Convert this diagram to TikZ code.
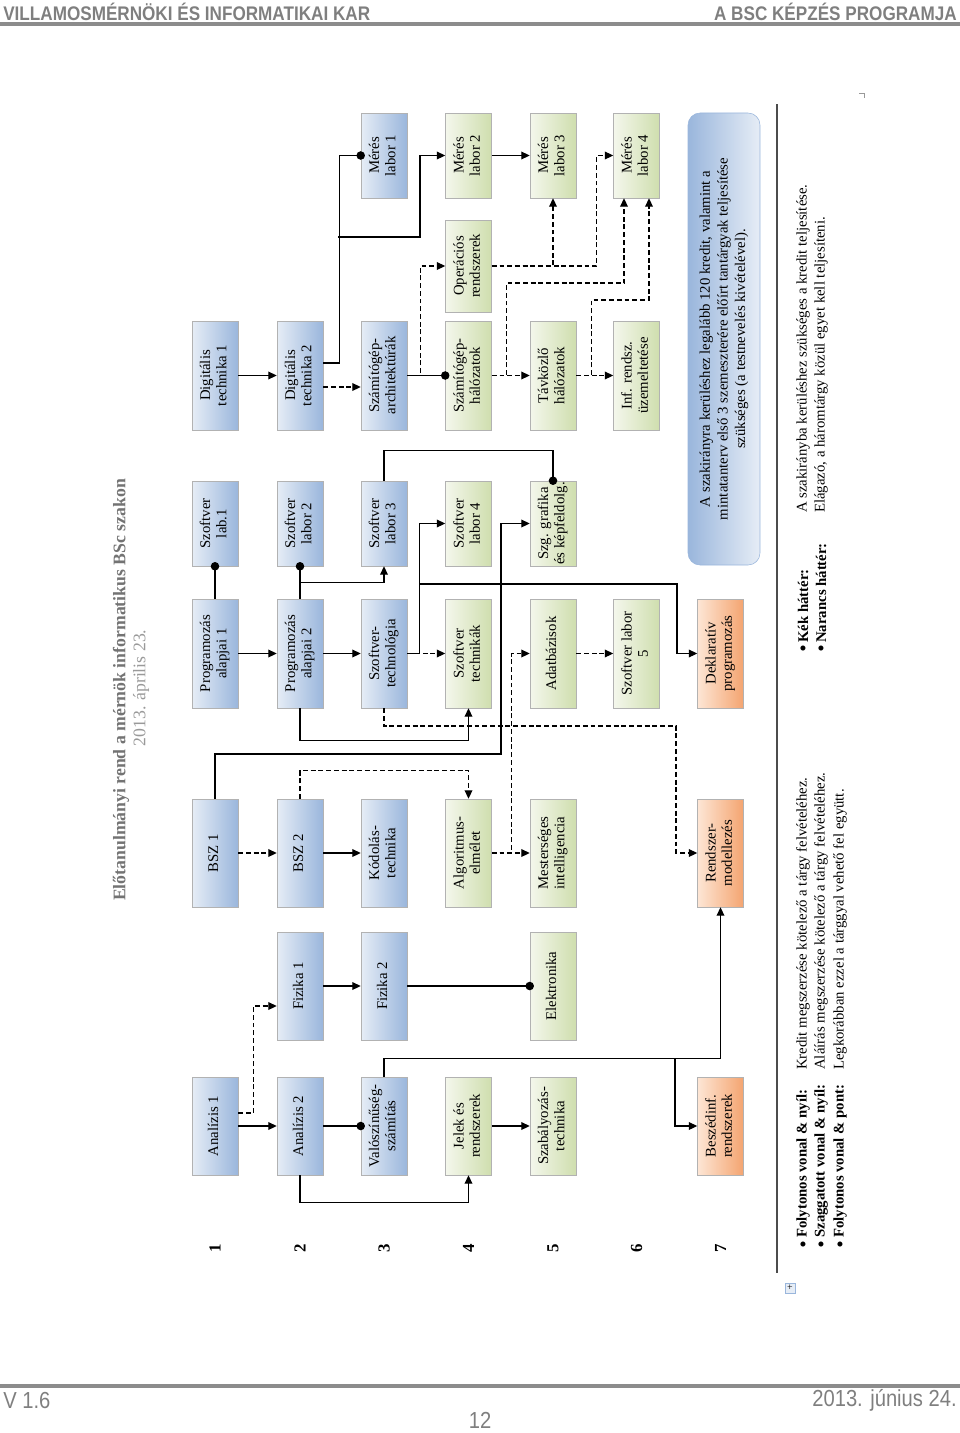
\documentclass[tikz,border=0pt]{standalone}
\usepackage{fontspec}
\setmainfont{Liberation Serif}
\newfontfamily\kopffont[FakeStretch=0.87]{Liberation Sans}
\usepackage{graphicx}
\usetikzlibrary{arrows.meta}
\definecolor{kekV}{HTML}{E6EDF6}
\definecolor{kekS}{HTML}{9AB6DC}
\definecolor{zoldV}{HTML}{F4F7EC}
\definecolor{zoldS}{HTML}{CFDEAE}
\definecolor{narV}{HTML}{FDE6D5}
\definecolor{narS}{HTML}{F4A470}
\definecolor{szurke}{HTML}{7F7F7F}
\newcommand{\fg}[1]{\rotatebox{90}{\begin{tabular}{@{}c@{}}#1\end{tabular}}}
\tikzset{
  tbox/.style   = {draw=black!30, inner sep=0pt, minimum width=11.5mm,
                   font=\fontsize{10.5}{11.5}\selectfont},
  kek/.style    = {tbox, left color=kekV, right color=kekS},
  zold/.style   = {tbox, left color=zoldV, right color=zoldS},
  nar/.style    = {tbox, left color=narV, right color=narS},
  colA/.style   = {minimum height=24.5mm},
  colB/.style   = {minimum height=27mm},
  colC/.style   = {minimum height=27mm},
  colD/.style   = {minimum height=27.25mm},
  colE/.style   = {minimum height=21.25mm},
  colF/.style   = {minimum height=27.25mm},
  colG/.style   = {minimum height=23mm},
  colH/.style   = {minimum height=21.25mm},
  info/.style   = {draw=kekS, rounded corners=3mm, minimum width=18mm,
                   minimum height=113mm, left color=kekS, right color=kekV,
                   inner sep=0pt, font=\fontsize{10.5}{12.5}\selectfont},
  ar/.style     = {-{Triangle[length=6pt,width=5.5pt]}, line width=0.9pt},
  dar/.style    = {ar, dash pattern=on 3.5pt off 2pt},
  pt/.style     = {-{Circle[length=6pt]}, line width=0.9pt, shorten >=-3pt},
  kopf/.style   = {font=\kopffont\bfseries\fontsize{14}{16}\selectfont,
                   text=szurke, inner sep=0pt},
  fuss/.style   = {font=\kopffont\fontsize{16.5}{18}\selectfont,
                   text=szurke, inner sep=0pt},
  rule/.style   = {line width=2.2pt, draw=black!45},
  cim/.style    = {font=\bfseries\fontsize{12.6}{14}\selectfont,
                   text=black!55, inner sep=0pt},
  datum/.style  = {font=\fontsize{12.6}{14}\selectfont, text=black!40,
                   inner sep=0pt},
  sorsz/.style  = {font=\bfseries\fontsize{12}{14}\selectfont, inner sep=0pt},
  jm/.style     = {font=\fontsize{10.5}{12}\selectfont, inner sep=0pt,
                   anchor=south},
  golyo/.style  = {font=\fontsize{15}{15}\selectfont, inner sep=0pt},
}

\begin{document}
\begin{tikzpicture}[x=0.25mm, y=-0.25mm]
\useasboundingbox (0,0) rectangle (960,1433);

% ===== page head and foot =====
\node[kopf, anchor=west] (kar) at (3,12) {VILLAMOSMÉRNÖKI ÉS INFORMATIKAI KAR};
\node[kopf, anchor=east] (kepz) at (957,12) {A BSC KÉPZÉS PROGRAMJA};
\draw[rule] (0,24) -- (960,24);
\draw[rule] (0,1386) -- (960,1386);
\node[fuss, anchor=west] (ver) at (3,1400) {V 1.6};
\node[fuss, anchor=east] (kelt) at (957,1400) {2013. június 24.};
\node[fuss] (lap) at (480,1420) {12};

% ===== title =====
\node[cim] (cim) at (121,690)
     {\rotatebox{90}{Előtanulmányi rend a mérnök informatikus BSc szakon}};
\node[datum] (datum) at (141,688) {\rotatebox{90}{2013. április 23.}};

% ===== row numbers =====
\foreach \x/\n in {215/1,300/2,384/3,468.5/4,553/5,636.5/6,720.5/7}
  \node[sorsz] (sor\n) at (\x,1248) {\rotatebox{90}{\n}};

% ===== row 1 =====
\node[kek, colA] (ana1)  at (215,1126)  {\fg{Analízis 1}};
\node[kek, colC] (bsz1)  at (215,853)   {\fg{BSZ 1}};
\node[kek, colD] (prog1) at (215,653.5) {\fg{Programozás\\alapjai 1}};
\node[kek, colE] (szl1)  at (215,523.5) {\fg{Szoftver\\lab.1}};
\node[kek, colF] (dig1)  at (215,375.5) {\fg{Digitális\\technika 1}};

% ===== row 2 =====
\node[kek, colA] (ana2)  at (300,1126)  {\fg{Analízis 2}};
\node[kek, colB] (fiz1)  at (300,986)   {\fg{Fizika 1}};
\node[kek, colC] (bsz2)  at (300,853)   {\fg{BSZ 2}};
\node[kek, colD] (prog2) at (300,653.5) {\fg{Programozás\\alapjai 2}};
\node[kek, colE] (szl2)  at (300,523.5) {\fg{Szoftver\\labor 2}};
\node[kek, colF] (dig2)  at (300,375.5) {\fg{Digitális\\technika 2}};

% ===== row 3 =====
\node[kek, colA] (valsz)  at (384,1126)  {\fg{Valószínűség-\\számítás}};
\node[kek, colB] (fiz2)   at (384,986)   {\fg{Fizika 2}};
\node[kek, colC] (kod)    at (384,853)   {\fg{Kódolás-\\technika}};
\node[kek, colD] (sztech) at (384,653.5) {\fg{Szoftver-\\technológia}};
\node[kek, colE] (szl3)   at (384,523.5) {\fg{Szoftver\\labor 3}};
\node[kek, colF] (arch)   at (384,375.5) {\fg{Számítógép-\\architektúrák}};
\node[kek, colH] (mer1)   at (384,155.5) {\fg{Mérés\\labor 1}};

% ===== row 4 =====
\node[zold, colA] (jelek)   at (468.5,1126)  {\fg{Jelek és\\rendszerek}};
\node[zold, colC] (alg)     at (468.5,853)   {\fg{Algoritmus-\\elmélet}};
\node[zold, colD] (sztechn) at (468.5,653.5) {\fg{Szoftver\\technikák}};
\node[zold, colE] (szl4)    at (468.5,523.5) {\fg{Szoftver\\labor 4}};
\node[zold, colF] (halo)    at (468.5,375.5) {\fg{Számítógép-\\hálózatok}};
\node[zold, colG] (oprend)  at (468.5,266)   {\fg{Operációs\\rendszerek}};
\node[zold, colH] (mer2)    at (468.5,155.5) {\fg{Mérés\\labor 2}};

% ===== row 5 =====
\node[zold, colA] (szab)    at (553,1126)  {\fg{Szabályozás-\\technika}};
\node[zold, colB] (elek)    at (553,986)   {\fg{Elektronika}};
\node[zold, colC] (mi)      at (553,853)   {\fg{Mesterséges\\intelligencia}};
\node[zold, colD] (adat)    at (553,653.5) {\fg{Adatbázisok}};
\node[zold, colE] (grafika) at (553,523.5) {\fg{Szg. grafika\\és képfeldolg.}};
\node[zold, colF] (tavk)    at (553,375.5) {\fg{Távközlő\\hálózatok}};
\node[zold, colH] (mer3)    at (553,155.5) {\fg{Mérés\\labor 3}};

% ===== row 6 =====
\node[zold, colD] (szl5) at (636.5,653.5) {\fg{Szoftver labor\\5}};
\node[zold, colF] (infr) at (636.5,375.5) {\fg{Inf. rendsz.\\üzemeltetése}};
\node[zold, colH] (mer4) at (636.5,155.5) {\fg{Mérés\\labor 4}};

% ===== row 7 =====
\node[nar, colA] (besz) at (720.5,1126)  {\fg{Beszédinf.\\rendszerek}};
\node[nar, colC] (rmod) at (720.5,853)   {\fg{Rendszer-\\modellezés}};
\node[nar, colD] (dekl) at (720.5,653.5) {\fg{Deklaratív\\programozás}};

\node[info] (info) at (724,339)
     {\fg{A szakirányra kerüléshez legalább 120 kredit, valamint a\\
      mintatanterv első 3 szemeszterére előírt tantárgyak teljesítése\\
      szükséges (a testnevelés kivételével).}};

% ===== connections =====
\coordinate (br1) at (675,1059);
\coordinate (br2) at (419,584);
\coordinate (br3) at (338,237);

\draw[ar]  (ana1) -- (ana2);
\draw[dar] (ana1.east |- 0,1113) -- ++(15,0) |- (fiz1.west |- 0,1006);
\draw[pt]  (ana2) -- (valsz);
\draw[ar]  (ana2.south) -- ++(0,27) -| (jelek.south);
\draw[ar]  (valsz.north) -- ++(0,-18) -| (rmod.south);
\draw[ar]  (br1) |- (besz.west);
\draw[ar]  (jelek) -- (szab);
\draw[ar]  (fiz1) -- (fiz2);
\draw[pt]  (fiz2) -- (elek);

\draw[dar] (bsz1) -- (bsz2);
\draw[ar]  (bsz2) -- (kod);
\draw[dar] (bsz2.north) -- ++(0,-28) -| (alg.north);
\draw[ar]  (bsz1.north) |- (501,754) |- (grafika.west);
\draw[dar] (alg) -- (mi);
\draw[dar] (alg.east) -- ++(20,0) |- (adat.west);
\draw[dar] (adat) -- (szl5);

\draw[ar]  (prog1) -- (prog2);
\draw[ar]  (prog2) -- (sztech);
\draw[pt]  (prog1) -- (szl1);
\draw[pt]  (prog2) -- (szl2);
\draw[ar]  (prog2.north) ++(0,-16) -| (szl3.south);
\draw[ar]  (prog2.south) -- ++(0,32) -| (sztechn.south);
\draw[pt]  (szl3.north) -- ++(0,-30) -| (grafika.north);
\draw[dar] (sztech) -- (sztechn);
\draw[ar]  (sztech.east) -- ++(12,0) |- (szl4.west);
\draw[ar]  (br2) -- ++(258,0) |- (dekl.west);
\draw[dar] (sztech.south) |- (676,726) |- (rmod.west);

\draw[ar]  (dig1) -- (dig2);
\draw[dar] (dig2.east |- 0,387) -- (arch.west |- 0,387);
\draw[pt]  (dig2.east |- 0,363) -- ++(16,0) |- (mer1.west);
\draw[ar]  (br3) -- ++(82,0) |- (mer2.west);
\draw[ar]  (mer2) -- (mer3);
\draw[pt]  (arch) -- (halo);
\draw[dar] (arch.east) -- ++(13,0) |- (oprend.west);
\draw[dar] (oprend.east) -| (mer3.south);
\draw[dar] (oprend.east) -- ++(105,0) |- (mer4.west);
\draw[dar] (halo) -- (tavk);
\draw[dar] (tavk) -- (infr);
\draw[dar] (halo.east) -- ++(15,0) |- (624,283) -- (mer4.south -| 624,0);
\draw[dar] (tavk.east) -- ++(15,0) |- (649,300) -- (mer4.south -| 649,0);

% ===== legend =====
\draw[line width=1.1pt, black!70] (777,104) -- (777,1273);
\foreach \x/\n in {803/1,821/2,840/3}
  \node[golyo] (pb\n) at (\x,1247) {\textbullet};
\foreach \x/\n in {803/1,821/2}
  \node[golyo] (pj\n) at (\x,651) {\textbullet};
\node[jm] (l1) at (803,1238) {\rotatebox{90}{\textbf{Folytonos vonal \& nyíl:}}};
\node[jm] (l2) at (821,1238) {\rotatebox{90}{\textbf{Szaggatott vonal \& nyíl:}}};
\node[jm] (l3) at (840,1238) {\rotatebox{90}{\textbf{Folytonos vonal \& pont:}}};
\node[jm] (d1) at (803,1070)
     {\rotatebox{90}{Kredit megszerzése kötelező a tárgy felvételéhez.}};
\node[jm] (d2) at (821,1070)
     {\rotatebox{90}{Aláírás megszerzése kötelező a tárgy felvételéhez.}};
\node[jm] (d3) at (840,1070)
     {\rotatebox{90}{Legkorábban ezzel a tárggyal vehető fel együtt.}};
\node[jm] (l4) at (803,643) {\rotatebox{90}{\textbf{Kék háttér:}}};
\node[jm] (l5) at (821,643) {\rotatebox{90}{\textbf{Narancs háttér:}}};
\node[jm] (d4) at (803,513)
     {\rotatebox{90}{A szakirányba kerüléshez szükséges a kredit teljesítése.}};
\node[jm] (d5) at (821,513)
     {\rotatebox{90}{Elágazó, a háromtárgy közül egyet kell teljesíteni.}};

% small marks
\node[draw=kekS, fill=kekV, minimum size=2.6mm, inner sep=0pt,
      font=\fontsize{7}{7}\selectfont] (fogo) at (790,1288) {+};
\draw[black!40, line width=0.5pt] (859,93) -- (864,93) -- (864,98);
\end{tikzpicture}
\end{document}
